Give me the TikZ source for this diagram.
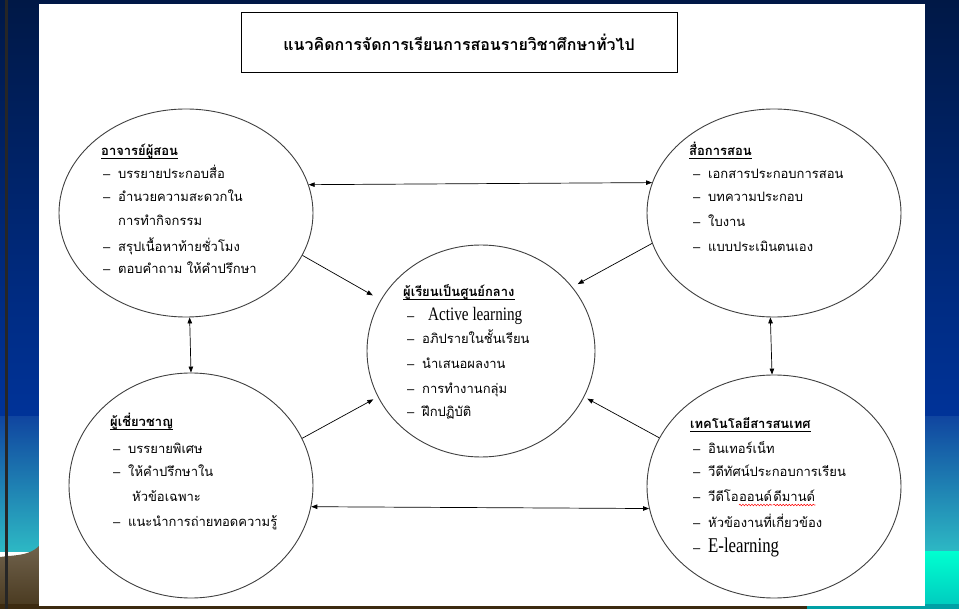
\documentclass[tikz,border=0pt]{standalone}
\usepackage{fontspec}
\setmainfont{Liberation Serif}
\newfontfamily\thai[Script=Thai]{Loma}
\newfontfamily\latn[FakeStretch=0.8]{Liberation Serif}
\newfontfamily\dashfont{Liberation Sans}
\usetikzlibrary{arrows.meta,decorations.pathmorphing,shapes.geometric}
\definecolor{navyT}{RGB}{0,24,70}
\definecolor{blueM}{RGB}{0,51,153}
\definecolor{blueL}{RGB}{16,70,160}
\definecolor{tealB}{RGB}{45,184,196}
\definecolor{aquaT}{RGB}{0,255,208}
\definecolor{aquaB}{RGB}{0,200,190}
\definecolor{brownT}{RGB}{112,98,76}
\definecolor{brownB}{RGB}{72,56,30}
\definecolor{brownD}{RGB}{60,42,16}
\definecolor{tealD}{RGB}{0,160,165}
\newcommand\itm[1]{\makebox[15pt][l]{\dashfont –}#1}
\newcommand\cnt[1]{\hspace*{15pt}#1}
\begin{document}
\begin{tikzpicture}[x=1pt,y=-1pt,
  bub/.style={draw=black!75, line width=0.9pt, ellipse, inner sep=0pt},
  txt/.style={anchor=base west, inner sep=0pt, font=\thai\fontsize{13}{15}\selectfont},
  hd/.style={txt, font=\thai\bfseries\fontsize{13}{15}\selectfont},
  tip/.style={-{Triangle[length=6pt,width=4.5pt]}, line width=0.7pt},
  both/.style={{Triangle[length=6pt,width=4.5pt]}-{Triangle[length=6pt,width=4.5pt]}, line width=0.7pt},
  uline/.style={line width=0.8pt}
]
\useasboundingbox (0,0) rectangle (959,609);
% background
\shade[top color=navyT, bottom color=blueM] (0,0) rectangle (959,417);
\shade[top color=blueL, bottom color=tealB] (0,417) rectangle (959,551);
\shade[top color=aquaT, bottom color=aquaB] (925,551) rectangle (959,609);
\shade[top color=brownT, bottom color=brownB] (0,557) -- (8,556) .. controls (25,555) and (33,552) .. (39,546) -- (39,609) -- (0,609) -- cycle;
\fill[brownD] (0,604) rectangle (807,609);
\fill[tealD] (807,604) rectangle (959,609);
\fill[black!85] (5,0) rectangle (8,609);
\fill[white] (39,4) rectangle (925,606);

% title
\node[draw=black, line width=0.9pt, minimum width=436pt, minimum height=60pt, inner sep=0pt,
  font=\thai\bfseries\fontsize{16}{18}\selectfont] (title) at (459,42) {แนวคิดการจัดการเรียนการสอนรายวิชาศึกษาทั่วไป};

% ellipses
\node[bub, minimum width=254pt, minimum height=208pt] (TL) at (186,213) {};
\node[bub, minimum width=254pt, minimum height=208pt] (TR) at (774,213) {};
\node[bub, minimum width=228pt, minimum height=212pt] (C) at (481,351) {};
\node[bub, minimum width=244pt, minimum height=225pt] (BL) at (191,485.5) {};
\node[bub, minimum width=254pt, minimum height=223pt] (BR) at (774,486.5) {};

% TL text
\node[hd] (tlh) at (101,156) {อาจารย์ผู้สอน};
\draw[uline] ([yshift=-2.5pt]tlh.base west) -- ([yshift=-2.5pt]tlh.base east);
\node[txt] (tl1) at (103,179) {\itm{บรรยายประกอบสื่อ}};
\node[txt] (tl2) at (103,202) {\itm{อำนวยความสะดวกใน}};
\node[txt] (tl3) at (103,226) {\cnt{การทำกิจกรรม}};
\node[txt] (tl4) at (103,252) {\itm{สรุปเนื้อหาท้ายชั่วโมง}};
\node[txt] (tl5) at (103,274) {\itm{ตอบคำถาม ให้คำปรึกษา}};

% TR text
\node[hd] (trh) at (689,156) {สื่อการสอน};
\draw[uline] ([yshift=-2.5pt]trh.base west) -- ([yshift=-2.5pt]trh.base east);
\node[txt] (tr1) at (693,179) {\itm{เอกสารประกอบการสอน}};
\node[txt] (tr2) at (693,202) {\itm{บทความประกอบ}};
\node[txt] (tr3) at (693,227) {\itm{ใบงาน}};
\node[txt] (tr4) at (693,252) {\itm{แบบประเมินตนเอง}};

% C text
\node[hd] (ch) at (403,297) {ผู้เรียนเป็นศูนย์กลาง};
\draw[uline] ([yshift=-2.5pt]ch.base west) -- ([yshift=-2.5pt]ch.base east);
\node[txt] (c1) at (407,321) {\itm{\hspace*{6pt}{\latn\fontsize{19}{20}\selectfont Active learning}}};
\node[txt] (c2) at (407,344) {\itm{อภิปรายในชั้นเรียน}};
\node[txt] (c3) at (407,369) {\itm{นำเสนอผลงาน}};
\node[txt] (c4) at (407,394) {\itm{การทำงานกลุ่ม}};
\node[txt] (c5) at (407,417) {\itm{ฝึกปฏิบัติ}};

% BL text
\node[hd] (blh) at (110,427) {ผู้เชี่ยวชาญ};
\draw[uline] ([yshift=-2.5pt]blh.base west) -- ([yshift=-2.5pt]blh.base east);
\node[txt] (bl1) at (113,454) {\itm{บรรยายพิเศษ}};
\node[txt] (bl2) at (113,477) {\itm{ให้คำปรึกษาใน}};
\node[txt] (bl3) at (113,502) {\cnt{\hspace*{4pt}หัวข้อเฉพาะ}};
\node[txt] (bl4) at (113,526) {\itm{แนะนำการถ่ายทอดความรู้}};

% BR text
\node[hd] (brh) at (690,429) {เทคโนโลยีสารสนเทศ};
\draw[uline] ([yshift=-2.5pt]brh.base west) -- ([yshift=-2.5pt]brh.base east);
\node[txt] (br1) at (693,454) {\itm{อินเทอร์เน็ท}};
\node[txt] (br2) at (693,477) {\itm{วีดีทัศน์ประกอบการเรียน}};
\node[txt] (br3) at (693,502) {\itm{วีดีโอ}};
\node[txt, anchor=base west] (br3a) at (br3.base east) {ออนด์};
\node[txt, anchor=base west] (br3b) at ([xshift=1pt]br3a.base east) {ดีมานด์};
\draw[red, line width=0.5pt, decorate, decoration={snake, amplitude=0.8pt, segment length=3pt}]
  ([yshift=-3pt]br3a.base west) -- ([yshift=-3pt]br3a.base east);
\draw[red, line width=0.5pt, decorate, decoration={snake, amplitude=0.8pt, segment length=3pt}]
  ([yshift=-3pt]br3b.base west) -- ([yshift=-3pt]br3b.base east);
\node[txt] (br4) at (693,527) {\itm{หัวข้องานที่เกี่ยวข้อง}};
\node[txt] (br5) at (693,552) {\itm{{\latn\fontsize{21}{22}\selectfont E-learning}}};

% connectors
\draw[both] (TL.13.5) -- (TR.166.5);
\draw[both] (BL.-10.4) -- (BR.-170.4);
\draw[both] (TL.-88) -- (BL.90.5);
\draw[both] (TR.-92) -- (BR.91.5);
\draw[tip, shorten >=9pt] (TL.-20) -- (C.153);
\draw[tip, shorten >=6pt] (TR.-166) -- (C.35);
\draw[tip, shorten >=5pt] (BL.23.6) -- (C.-156.5);
\draw[tip, shorten >=3.5pt] (BR.157) -- (C.-24);
\end{tikzpicture}
\end{document}
